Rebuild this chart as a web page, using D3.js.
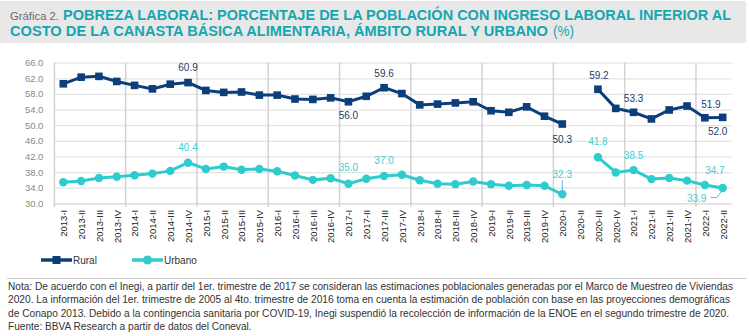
<!DOCTYPE html>
<html>
<head>
<meta charset="utf-8">
<script src="https://cdn.jsdelivr.net/npm/d3@7"></script>
<style>
body { margin: 0; background: #fff; }
svg { display: block; font-family: "Liberation Sans", Arial, sans-serif; }
</style>
</head>
<body>
<script>
// Quarters on the x axis
const quarters = [
    "2013-I", "2013-II", "2013-III", "2013-IV",
    "2014-I", "2014-II", "2014-III", "2014-IV",
    "2015-I", "2015-II", "2015-III", "2015-IV",
    "2016-I", "2016-II", "2016-III", "2016-IV",
    "2017-I", "2017-II", "2017-III", "2017-IV",
    "2018-I", "2018-II", "2018-III", "2018-IV",
    "2019-I", "2019-II", "2019-III", "2019-IV",
    "2020-I", "2020-II", "2020-III", "2020-IV",
    "2021-I", "2021-II", "2021-III", "2021-IV",
    "2022-I", "2022-II"
];

// % of population with labour income below the food basket (2020-II not collected)
const rural = [
    60.6, 62.3, 62.5, 61.2, 60.2, 59.3, 60.5, 60.9,
    58.9, 58.4, 58.5, 57.7, 57.7, 56.7, 56.6, 57.0,
    56.0, 57.4, 59.6, 58.1, 55.2, 55.4, 55.7, 56.0,
    53.7, 53.3, 54.7, 52.3, 50.3, null, 59.2, 54.3,
    53.3, 51.6, 53.9, 54.9, 51.9, 52.0
];
const urbano = [
    35.4, 35.7, 36.5, 36.8, 37.2, 37.6, 38.3, 40.4,
    38.8, 39.4, 38.6, 38.8, 38.2, 37.1, 36.0, 36.4,
    35.0, 36.3, 37.0, 37.3, 35.9, 35.0, 34.9, 35.6,
    34.9, 34.5, 34.7, 34.5, 32.3, null, 41.8, 37.9,
    38.5, 36.2, 36.5, 35.8, 34.7, 33.9
];

const yTicks = [30, 34, 38, 42, 46, 50, 54, 58, 62, 66];
const seriesNames = ["Rural", "Urbano"];

// quarters that carry a data label
const ruralLabelIdx = [7, 16, 18, 28, 30, 32, 36, 37];
const urbanoLabelIdx = [7, 16, 18, 28, 30, 32, 36, 37];

const titlePrefix = "Gráfica 2.";
const titleLine1 = "POBREZA LABORAL: PORCENTAJE DE LA POBLACIÓN CON INGRESO LABORAL INFERIOR AL";
const titleLine2 = "COSTO DE LA CANASTA BÁSICA ALIMENTARIA, ÁMBITO RURAL Y URBANO";
const titleUnit = "(%)";

const notes = [
    "Nota: De acuerdo con el Inegi, a partir del 1er. trimestre de 2017 se consideran las estimaciones poblacionales generadas por el Marco de Muestreo de Viviendas",
    "2020. La información del 1er. trimestre de 2005 al 4to. trimestre de 2016 toma en cuenta la estimación de población con base en las proyecciones demográficas",
    "de Conapo 2013. Debido a la contingencia sanitaria por COVID-19, Inegi suspendió la recolección de información de la ENOE en el segundo trimestre de 2020.",
    "Fuente: BBVA Research a partir de datos del Coneval."
];

const W = 749, H = 336;
const navy = "#0b3e7b", teal = "#2ecccd";
const navyText = "#1a3d6d", tealText = "#40cfd1";
const titleTeal = "#17a6b0";

const svg = d3.select("body").append("svg")
    .attr("width", W)
    .attr("height", H);

// squeeze a text element to a given width (the original uses a narrow face)
function fit(sel, width) {
    sel.attr("textLength", width).attr("lengthAdjust", "spacingAndGlyphs");
}

// ---- title box
svg.append("rect")
    .attr("x", 0).attr("y", 1)
    .attr("width", 746).attr("height", 42)
    .attr("fill", "#e8e8e8");

svg.append("text")
    .attr("x", 10).attr("y", 19.5)
    .attr("font-size", 11.5)
    .attr("fill", "#6b6b6b")
    .text(titlePrefix)
    .call(fit, 49);

svg.append("text")
    .attr("x", 63).attr("y", 19.5)
    .attr("font-size", 14.5)
    .attr("font-weight", "bold")
    .attr("fill", titleTeal)
    .text(titleLine1)
    .call(fit, 668);

svg.append("text")
    .attr("x", 10).attr("y", 36)
    .attr("font-size", 14.5)
    .attr("font-weight", "bold")
    .attr("fill", titleTeal)
    .text(titleLine2)
    .call(fit, 538);

svg.append("text")
    .attr("x", 553).attr("y", 36)
    .attr("font-size", 14.5)
    .attr("fill", titleTeal)
    .text(titleUnit)
    .call(fit, 21);

// ---- scales
const x = d3.scaleBand()
    .domain(quarters)
    .range([54.4, 731.6])
    .padding(0);

const y = d3.scaleLinear()
    .domain([30, 66])
    .range([203.3, 62.7]);

const cx = q => x(q) + x.bandwidth() / 2;

// horizontal grid + y labels
const yAxis = svg.append("g")
    .attr("transform", "translate(54.4,0)")
    .call(d3.axisLeft(y).tickValues(yTicks).tickFormat(d3.format(".1f"))
        .tickSize(-(731.6 - 54.4)).tickPadding(11));
yAxis.select(".domain").remove();
yAxis.selectAll(".tick line")
    .attr("stroke", d => d === 30 ? "#d4d4d4" : "#e4e4e4")
    .attr("stroke-width", 1.2);
yAxis.selectAll(".tick text")
    .attr("font-size", 9.5)
    .attr("font-family", "Liberation Sans, Arial, sans-serif")
    .attr("fill", "#8a8a8a");

// year separators
const seps = quarters.filter((q, i) => i % 4 === 0);
svg.append("g").selectAll("line")
    .data(seps)
    .join("line")
    .attr("x1", d => x(d)).attr("x2", d => x(d))
    .attr("y1", y(66)).attr("y2", y(30) + 3.5)
    .attr("stroke", "#d2d2d2")
    .attr("stroke-width", 1.5);

// x labels
const xAxis = svg.append("g")
    .attr("transform", "translate(0," + y(30) + ")")
    .call(d3.axisBottom(x).tickSize(0).tickPadding(0));
xAxis.select(".domain").remove();
xAxis.selectAll(".tick text")
    .attr("font-size", 9.5)
    .attr("font-family", "Liberation Sans, Arial, sans-serif")
    .attr("fill", "#222")
    .attr("text-anchor", "end")
    .attr("transform", "translate(0.5,6.5) rotate(-90)")
    .attr("x", 0)
    .attr("y", 0)
    .attr("dy", "0.35em");

// ---- lines
const line = d3.line()
    .defined(d => d.v != null)
    .x(d => cx(d.q))
    .y(d => y(d.v));

const ruralPts = quarters.map((q, i) => ({ q: q, v: rural[i] }));
const urbanoPts = quarters.map((q, i) => ({ q: q, v: urbano[i] }));

svg.append("path")
    .datum(urbanoPts)
    .attr("d", line)
    .attr("fill", "none")
    .attr("stroke", teal)
    .attr("stroke-width", 3);

svg.append("g").selectAll("circle")
    .data(urbanoPts.filter(d => d.v != null))
    .join("circle")
    .attr("cx", d => cx(d.q))
    .attr("cy", d => y(d.v))
    .attr("r", 4.2)
    .attr("fill", teal);

svg.append("path")
    .datum(ruralPts)
    .attr("d", line)
    .attr("fill", "none")
    .attr("stroke", navy)
    .attr("stroke-width", 3);

svg.append("g").selectAll("rect")
    .data(ruralPts.filter(d => d.v != null))
    .join("rect")
    .attr("x", d => cx(d.q) - 3.8)
    .attr("y", d => y(d.v) - 3.8)
    .attr("width", 7.6)
    .attr("height", 7.6)
    .attr("fill", navy);

// ---- data labels
const fmt = d3.format(".1f");
// offsets for each labelled point (px), style only
const ruralOff = { 7: [0, -15], 16: [0, 14], 18: [0, -14], 28: [0, 15], 30: [1, -14], 32: [0, -14], 36: [6, -13], 37: [-5, 14] };
const urbanoOff = { 7: [0, -15], 16: [0, -16], 18: [0, -15], 28: [0, -20], 30: [0, -16], 32: [0, -15], 36: [10, -14], 37: [-26, 10] };

svg.append("g").selectAll("text")
    .data(ruralLabelIdx)
    .join("text")
    .attr("x", i => cx(quarters[i]) + ruralOff[i][0])
    .attr("y", i => y(rural[i]) + ruralOff[i][1])
    .attr("dy", "0.35em")
    .attr("text-anchor", "middle")
    .attr("font-size", 10)
    .attr("fill", navyText)
    .text(i => fmt(rural[i]));

svg.append("g").selectAll("text")
    .data(urbanoLabelIdx)
    .join("text")
    .attr("x", i => cx(quarters[i]) + urbanoOff[i][0])
    .attr("y", i => y(urbano[i]) + urbanoOff[i][1])
    .attr("dy", "0.35em")
    .attr("text-anchor", "middle")
    .attr("font-size", 10)
    .attr("fill", tealText)
    .text(i => fmt(urbano[i]));

// leader lines for the two crowded labels
const lead = "#5ab6ea";
svg.append("line")
    .attr("x1", cx(quarters[28])).attr("x2", cx(quarters[28]))
    .attr("y1", y(urbano[28]) - 14).attr("y2", y(urbano[28]))
    .attr("stroke", lead).attr("stroke-width", 1);
svg.append("polyline")
    .attr("points", [
        [cx(quarters[37]) - 12, y(urbano[37]) + 9.5],
        [cx(quarters[37]) - 6, y(urbano[37]) + 9.5],
        [cx(quarters[37]) - 1, y(urbano[37]) + 3]
    ].join(" "))
    .attr("fill", "none")
    .attr("stroke", lead).attr("stroke-width", 1);

// ---- legend
const legend = svg.append("g").attr("transform", "translate(0,260)");
const lg = [
    { name: seriesNames[0], x: 41, color: navy, shape: "rect" },
    { name: seriesNames[1], x: 132, color: teal, shape: "circle" }
];
lg.forEach(d => {
    legend.append("line")
        .attr("x1", d.x).attr("x2", d.x + 31)
        .attr("y1", 0).attr("y2", 0)
        .attr("stroke", d.color).attr("stroke-width", 3.5);
    if (d.shape === "rect") {
        legend.append("rect")
            .attr("x", d.x + 15.5 - 4).attr("y", -4)
            .attr("width", 8).attr("height", 8)
            .attr("fill", d.color);
    } else {
        legend.append("circle")
            .attr("cx", d.x + 15.5).attr("cy", 0).attr("r", 4.5)
            .attr("fill", d.color);
    }
    legend.append("text")
        .attr("x", d.x + 32).attr("y", 0)
        .attr("dy", "0.35em")
        .attr("font-size", 10)
        .attr("fill", "#333")
        .text(d.name);
});

// ---- separator + notes
svg.append("line")
    .attr("x1", 7).attr("x2", 746)
    .attr("y1", 278.5).attr("y2", 278.5)
    .attr("stroke", "#c8c8c8").attr("stroke-width", 1);

const noteTargets = [725, 722, 721];
const noteText = svg.append("g").selectAll("text")
    .data(notes)
    .join("text")
    .attr("x", 8)
    .attr("y", (d, i) => 290 + i * 13.3)
    .attr("font-size", 10)
    .attr("fill", "#333")
    .text(d => d);

// squeeze the notes the same way as the first line
const firstNat = noteText.nodes()[0].getComputedTextLength();
const squeeze = noteTargets[0] / firstNat;
noteText.each(function(d, i) {
    const w = i < noteTargets.length ? noteTargets[i] : this.getComputedTextLength() * squeeze;
    d3.select(this).call(fit, w);
});
</script>
</body>
</html>
